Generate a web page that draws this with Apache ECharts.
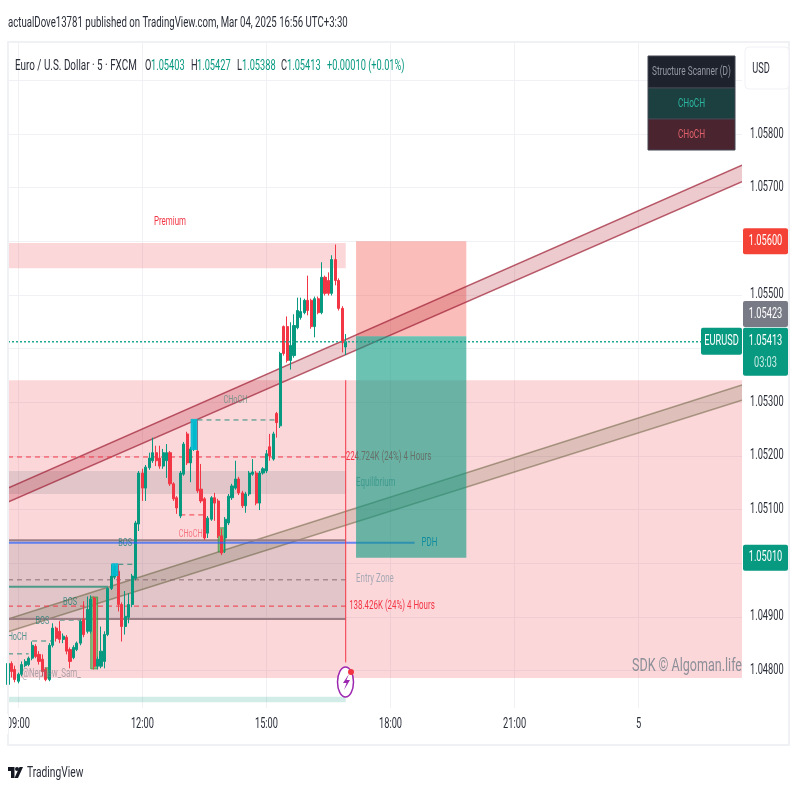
<!DOCTYPE html>
<html>
<head>
<meta charset="utf-8">
<title>EURUSD 5m</title>
<style>
html,body{margin:0;padding:0;background:#fff;}
#main{width:800px;height:800px;}
</style>
<script src="https://cdn.jsdelivr.net/npm/echarts@6/dist/echarts.min.js"></script>
</head>
<body>
<div id="main"></div>
<script>
var opens = [
	1.04774,1.04813,1.04802,1.04780,1.04793,1.04809,1.04811,1.04823,1.04845,1.04830,
	1.04821,1.04802,1.04783,1.04847,1.04879,1.04873,1.04858,1.04862,1.04839,1.04824,
	1.04839,1.04851,1.04895,1.04873,1.04873,1.04935,1.04808,1.04808,1.04817,1.04867,
	1.04953,1.04974,1.04985,1.04923,1.04882,1.04899,1.04923,1.04972,1.05073,1.05168,
	1.05140,1.05178,1.05191,1.05206,1.05196,1.05181,1.05191,1.05206,1.05148,1.05122,
	1.05088,1.05166,1.05241,1.05187,1.05213,1.05209,1.05138,1.05120,1.05056,1.05082,
	1.05122,1.05116,1.05051,1.05047,1.05075,1.05122,1.05140,1.05157,1.05131,1.05107,
	1.05129,1.05166,1.05168,1.05112,1.05168,1.05172,1.05217,1.05194,1.05279,1.05256,
	1.05441,1.05441,1.05378,1.05387,1.05439,1.05458,1.05467,1.05490,1.05490,1.05441,
	1.05493,1.05467,1.05533,1.05527,1.05503,1.05566,1.05527,1.05475,1.05403
];
var closes = [
	1.04813,1.04798,1.04783,1.04793,1.04811,1.04817,1.04823,1.04847,1.04826,1.04817,
	1.04798,1.04783,1.04847,1.04879,1.04860,1.04858,1.04864,1.04836,1.04817,1.04843,
	1.04851,1.04892,1.04867,1.04914,1.04933,1.04808,1.04821,1.04836,1.04867,1.04953,
	1.04976,1.04994,1.04923,1.04882,1.04901,1.04923,1.04976,1.05075,1.05168,1.05140,
	1.05179,1.05196,1.05206,1.05191,1.05181,1.05206,1.05206,1.05148,1.05120,1.05103,
	1.05168,1.05222,1.05187,1.05213,1.05265,1.05135,1.05116,1.05047,1.05084,1.05122,
	1.05112,1.05051,1.05019,1.05082,1.05125,1.05144,1.05157,1.05131,1.05107,1.05129,
	1.05168,1.05170,1.05112,1.05168,1.05176,1.05204,1.05200,1.05241,1.05262,1.05391,
	1.05391,1.05378,1.05406,1.05443,1.05471,1.05469,1.05490,1.05471,1.05441,1.05493,
	1.05467,1.05533,1.05503,1.05503,1.05566,1.05527,1.05475,1.05411,1.05413
];
var lows = [
	1.04770,1.04787,1.04778,1.04776,1.04789,1.04806,1.04808,1.04819,1.04823,1.04811,
	1.04789,1.04780,1.04780,1.04843,1.04854,1.04851,1.04851,1.04830,1.04804,1.04821,
	1.04836,1.04847,1.04862,1.04869,1.04869,1.04802,1.04802,1.04804,1.04804,1.04864,
	1.04950,1.04970,1.04910,1.04854,1.04867,1.04888,1.04918,1.04968,1.05060,1.05116,
	1.05116,1.05174,1.05187,1.05181,1.05176,1.05176,1.05159,1.05144,1.05116,1.05092,
	1.05084,1.05163,1.05183,1.05151,1.05209,1.05131,1.05112,1.05043,1.05047,1.05079,
	1.05079,1.05047,1.05015,1.05019,1.05071,1.05118,1.05137,1.05127,1.05103,1.05094,
	1.05125,1.05163,1.05108,1.05099,1.05165,1.05168,1.05191,1.05191,1.05234,1.05252,
	1.05387,1.05374,1.05361,1.05383,1.05436,1.05454,1.05464,1.05462,1.05437,1.05421,
	1.05464,1.05464,1.05499,1.05499,1.05499,1.05518,1.05471,1.05393,1.05388
];
var highs = [
	1.04817,1.04817,1.04809,1.04796,1.04817,1.04821,1.04826,1.04854,1.04849,1.04836,
	1.04830,1.04806,1.04851,1.04888,1.04882,1.04892,1.04869,1.04866,1.04843,1.04847,
	1.04854,1.04895,1.04929,1.04938,1.04940,1.04938,1.04826,1.04882,1.04873,1.04955,
	1.04998,1.04998,1.04998,1.04927,1.04948,1.04944,1.04980,1.05079,1.05172,1.05176,
	1.05183,1.05206,1.05234,1.05219,1.05219,1.05213,1.05222,1.05209,1.05151,1.05125,
	1.05172,1.05226,1.05245,1.05217,1.05267,1.05267,1.05185,1.05123,1.05088,1.05125,
	1.05131,1.05120,1.05064,1.05086,1.05129,1.05148,1.05191,1.05161,1.05135,1.05133,
	1.05172,1.05194,1.05172,1.05172,1.05179,1.05211,1.05241,1.05245,1.05282,1.05394,
	1.05443,1.05460,1.05449,1.05464,1.05495,1.05495,1.05493,1.05536,1.05493,1.05497,
	1.05497,1.05561,1.05536,1.05542,1.05574,1.05594,1.05531,1.05479,1.05427
];

var timeTicks = ['09:00','12:00','15:00','18:00','21:00','5'];
var priceTicks = [1.059,1.058,1.057,1.056,1.055,1.054,1.053,1.052,1.051,1.05,1.049,1.048];

// zones: [first bar, last bar, top price, bottom price]
var premiumZone = [[0,98,1.05597,1.05550]];
var discountZone = [[0,213,1.05341,1.04786]];
var grayZones = [[0,98,1.05172,1.05129],[0,98,1.05043,1.04896]];
var sessionBar = [[0,98,1.04751,1.04741]];
var stopBox = [[100.8,133,1.05600,1.05423]];
var targetBox = [[100.8,133,1.05423,1.05010]];
var greenBlocks = [[11,12,1.04805,1.04786],[24,26,1.04937,1.04803],[61,63,1.05066,1.05021]];
var cyanBlocks = [[30,32,1.05000,1.04976],[53,55,1.05269,1.05211]];

// channels: [first bar, top, bottom, last bar, top, bottom]
var upperChannel = [0,1.05140,1.05114,213,1.05742,1.05711];
var lowerChannel = [0,1.04896,1.04872,213,1.05332,1.05304];

// segments: [first bar, last bar, price]
var redDashes = [[0,98,1.05198],[0,98,1.04920],[50,57,1.05090]];
var greenDashes = [[55,78,1.05267],[32,37,1.04998],[15,21,1.04894],[7,13,1.04855],[0,6,1.04831]];
var entryDash = [[0,98,1.04969]];
var entryEdges = [[0,98,1.05043],[0,98,1.04896]];
var pdhLine = [[0,118,1.05038]];
var supportLine = [[0,29,1.04956]];
var lastPriceLine = [[0,202,1.05413]];
var nowLine = [98,1.05341,1.04815];

var noteTexts = ['Premium','CHoCH','CHoCH','BOS','BOS','BOS','CHoCH','224.724K (24%) 4 Hours','Equilibrium','Entry Zone','138.426K (24%) 4 Hours','PDH','@Nephew_Sam_','SDK \u00A9 Algoman.life'];
var noteBars = [46.7,65.6,52.8,33.7,17.7,9.9,2.3,98.4,100.7,100.7,98.7,120.4,3.5,212.7];
var notePrices = [1.05636,1.05304,1.05054,1.05038,1.04928,1.04892,1.04862,1.05198,1.05149,1.04970,1.04920,1.05038,1.04793,1.04808];

var upColor = '#089981';
var downColor = '#f23645';
var textColor = '#2a2e39';
var squeeze = 0.66;
var noteStyles = [
	{fill:downColor,size:12,align:'center'},
	{fill:'rgba(90,140,130,.75)',size:11,align:'center'},
	{fill:'rgba(242,54,69,.6)',size:11,align:'center'},
	{fill:'rgba(8,120,110,.7)',size:11,align:'center'},
	{fill:'rgba(8,120,110,.7)',size:11,align:'center'},
	{fill:'rgba(8,120,110,.7)',size:11,align:'center'},
	{fill:'rgba(8,120,110,.7)',size:11,align:'center'},
	{fill:downColor,size:12,align:'left'},
	{fill:'#8a9aa0',size:12,align:'left'},
	{fill:'#a6a9b4',size:12,align:'left'},
	{fill:downColor,size:12,align:'left'},
	{fill:'#1e78c8',size:12,align:'left'},
	{fill:'rgba(120,123,134,.6)',size:12,align:'left'},
	{fill:'#8c8f98',size:19,align:'right'}
];

// 5 minute slots from 08:45, the same slot width carries on past the last bar
var categories = new Array();
for(var i=0;i<214;i++){
	var m = 8*60+45+i*5;
	var h = Math.floor(m/60)%24;
	var name = (h<10?'0':'')+h+':'+(m%60<10?'0':'')+(m%60);
	categories.push(name=='00:00' ? '5' : name);
}
var isTick = function(i,v){
	return timeTicks.indexOf(v)>=0;
};

var candles = new Array();
for(var j=0;j<opens.length;j++){
	candles.push([opens[j],closes[j],lows[j],highs[j]]);
}

function boxes(name,list,color,z,border){
	return {
		name:name,type:'custom',z:z,silent:true,clip:true,
		data:list,
		renderItem:function(params,api){
			var b = list[params.dataIndex];
			var a = api.coord([b[0],b[2]]);
			var c = api.coord([b[1],b[3]]);
			return {
				type:'rect',
				shape:{x:a[0],y:a[1],width:c[0]-a[0],height:c[1]-a[1]},
				style:{fill:color,stroke:border||null,lineWidth:border?1:0}
			};
		}
	};
}

function channel(name,ch,fill,edge,z){
	return {
		name:name,type:'custom',z:z,silent:true,clip:true,
		data:[ch],
		renderItem:function(params,api){
			var p1 = api.coord([ch[0],ch[1]]);
			var p2 = api.coord([ch[3],ch[4]]);
			var p3 = api.coord([ch[3],ch[5]]);
			var p4 = api.coord([ch[0],ch[2]]);
			return {
				type:'group',
				children:[
					{type:'polygon',shape:{points:[p1,p2,p3,p4]},style:{fill:fill}},
					{type:'line',shape:{x1:p1[0],y1:p1[1],x2:p2[0],y2:p2[1]},style:{stroke:edge,lineWidth:1.5}},
					{type:'line',shape:{x1:p4[0],y1:p4[1],x2:p3[0],y2:p3[1]},style:{stroke:edge,lineWidth:1.5}}
				]
			};
		}
	};
}

function segments(name,list,color,width,dash,z){
	return {
		name:name,type:'custom',z:z,silent:true,clip:true,
		data:list,
		renderItem:function(params,api){
			var s = list[params.dataIndex];
			var a = api.coord([s[0],s[2]]);
			var b = api.coord([s[1],s[2]]);
			return {
				type:'line',
				shape:{x1:a[0],y1:a[1],x2:b[0],y2:b[1]},
				style:{stroke:color,lineWidth:width,lineDash:dash||null}
			};
		}
	};
}

var series = [
	// the image is squeezed sideways, so the axis labels are drawn scaled like the rest of the text
	{
		name:'price labels',type:'custom',z:0,silent:true,clip:false,
		data:priceTicks,
		renderItem:function(params,api){
			var p = api.coord([213,priceTicks[params.dataIndex]]);
			return {
				type:'text',x:p[0]+8,y:p[1],scaleX:squeeze,
				style:{text:priceTicks[params.dataIndex].toFixed(5),fill:textColor,font:'14px Roboto',align:'left',verticalAlign:'middle'}
			};
		}
	},
	{
		name:'time labels',type:'custom',z:0,silent:true,clip:false,
		data:timeTicks,
		renderItem:function(params,api){
			var t = timeTicks[params.dataIndex];
			var p = api.coord([categories.indexOf(t),1.047301]);
			return {
				type:'text',x:p[0],y:p[1]+16,scaleX:squeeze,
				style:{text:t,fill:textColor,font:'14px Roboto',align:'center',verticalAlign:'middle'}
			};
		}
	},
	boxes('premium',premiumZone,'rgba(242,54,69,.2)',1),
	boxes('discount',discountZone,'rgba(242,54,69,.2)',1),
	boxes('gray',grayZones,'rgba(120,123,134,.2)',1),
	boxes('session',sessionBar,'rgba(8,153,129,.18)',1),
	boxes('stop',stopBox,'rgba(244,67,54,.35)',2),
	channel('upper channel',upperChannel,'rgba(178,34,52,.24)','rgba(160,35,55,.72)',2),
	channel('lower channel',lowerChannel,'rgba(90,85,45,.18)','rgba(90,85,45,.5)',2),
	segments('red dashes',redDashes,downColor,1,[5,4],3),
	segments('green dashes',greenDashes,'#2e8b7a',1,[5,4],3),
	segments('entry dash',entryDash,'#8a6d73',1,[5,4],3),
	segments('entry edges',entryEdges,'#9c7f85',2,null,3),
	segments('support',supportLine,'#4e9a88',2,null,3),
	boxes('blocks',greenBlocks,'rgba(76,175,80,.65)',3,'rgba(56,142,60,.7)'),
	{
		name:'EURUSD',type:'candlestick',z:5,silent:true,
		barWidth:2.6,
		itemStyle:{color:upColor,color0:downColor,borderColor:upColor,borderColor0:downColor,borderWidth:1},
		data:candles
	},
	boxes('cyan',cyanBlocks,'rgba(0,188,212,.92)',6),
	segments('last price',lastPriceLine,'#22a892',1.5,[2,2],6),
	segments('pdh',pdhLine,'rgba(41,98,255,.7)',2,null,6),
	{
		name:'now',type:'custom',z:6,silent:true,clip:true,
		data:[nowLine],
		renderItem:function(params,api){
			var a = api.coord([nowLine[0],nowLine[1]]);
			var b = api.coord([nowLine[0],nowLine[2]]);
			return {type:'line',shape:{x1:a[0],y1:a[1],x2:b[0],y2:b[1]},style:{stroke:downColor,lineWidth:1}};
		}
	},
	{
		name:'notes',type:'custom',z:7,silent:true,clip:true,
		data:noteTexts,
		renderItem:function(params,api){
			var k = params.dataIndex;
			var p = api.coord([noteBars[k],notePrices[k]]);
			var st = noteStyles[k];
			return {
				type:'text',x:p[0],y:p[1],scaleX:squeeze,
				style:{text:noteTexts[k],fill:st.fill,font:st.size+'px Roboto',align:st.align,verticalAlign:'middle'}
			};
		}
	},
	boxes('target',targetBox,'rgba(8,153,129,.6)',8)
];

var myChart = echarts.init(document.getElementById('main'));
var option = {
	animation:false,
	backgroundColor:'#fff',
	grid:{left:8,right:58,top:42,bottom:92},
	xAxis:{
		type:'category',boundaryGap:false,data:categories,
		axisLine:{show:false},axisTick:{show:false},
		axisLabel:{show:false},
		splitLine:{show:true,interval:isTick,lineStyle:{color:'#f0f1f4',width:1}}
	},
	yAxis:{
		type:'value',position:'right',scale:true,min:1.047301,max:1.059715,
		axisLine:{show:false},
		axisTick:{show:false,customValues:priceTicks},
		axisLabel:{show:false,customValues:priceTicks},
		splitLine:{show:true,lineStyle:{color:'#f0f1f4',width:1}}
	},
	series:series
};
myChart.setOption(option);

function label(x,y,text,color,size,align){
	return {
		type:'text',x:x,y:y,scaleX:squeeze,z:110,silent:true,
		style:{text:text,fill:color,font:size+'px Roboto',align:align||'left',verticalAlign:'middle'}
	};
}
function block(x,y,w,h,fill,stroke,r){
	return {
		type:'rect',z:100,silent:true,
		shape:{x:x,y:y,width:w,height:h,r:r||0},
		style:{fill:fill,stroke:stroke||null,lineWidth:stroke?1:0}
	};
}
var priceY = function(p){
	return myChart.convertToPixel({yAxisIndex:0},p);
};

var dark = '#131722';
var y56 = priceY(1.05600), y50 = priceY(1.05010), yLast = priceY(1.05413);
var graphics = [
	// frame
	block(7,41,783,2,'#f0f1f4'),
	block(7,41,2,705,'#f0f1f4'),
	block(788,41,2,705,'#f0f1f4'),
	block(7,744,783,2,'#f0f1f4'),
	block(0,714,8,20,'#fff'),
	// title and legend row
	label(8,23,'actualDove13781 published on TradingView.com, Mar 04, 2025 16:56 UTC+3:30',textColor,14.6),
	label(15,66,'Euro / U.S. Dollar \u00B7 5 \u00B7 FXCM',textColor,15),
	label(145,66,'O',textColor,14),label(151,66,'1.05403',upColor,14),
	label(191,66,'H',textColor,14),label(197,66,'1.05427',upColor,14),
	label(237,66,'L',textColor,14),label(242,66,'1.05388',upColor,14),
	label(281,66,'C',textColor,14),label(287,66,'1.05413',upColor,14),
	label(327,66,'+0.00010 (+0.01%)',upColor,14),
	// scanner table
	block(648,56,87,32,'#1e222d','#434651'),
	block(648,88,87,31,'#1c3f3f','#434651'),
	block(648,119,87,31,'#4a2530','#434651'),
	label(691.5,72,'Structure Scanner (D)','#9598a1',12.5,'center'),
	label(691.5,104,'CHoCH','#2bb5a0',12.5,'center'),
	label(691.5,135,'CHoCH','#e0606a',12.5,'center'),
	// right scale tags
	block(745,47,44,42,'#fff','#f0f1f4',4),
	label(761,69,'USD',textColor,14,'center'),
	block(743,y56-13,45,26,'#f44336',null,2),
	label(765.5,y56,'1.05600','#fff',14,'center'),
	block(743,301,45,26,'#787b86',null,2),
	label(765.5,314,'1.05423','#fff',14,'center'),
	block(701,yLast-14,41,27,upColor,null,2),
	label(721.5,yLast,'EURUSD','#fff',14,'center'),
	block(743,yLast-14,45,48,upColor,null,2),
	label(765.5,yLast,'1.05413','#fff',14,'center'),
	label(765.5,yLast+22,'03:03','#c8ece4',14,'center'),
	block(743,y50-13,45,26,upColor,null,2),
	label(765.5,y50,'1.05010','#fff',14,'center'),
	// flash marker
	{type:'ellipse',z:105,silent:true,shape:{cx:345.5,cy:682,rx:8,ry:15},style:{fill:'#fff',stroke:'#9c27b0',lineWidth:1.5}},
	{type:'polygon',z:106,silent:true,shape:{points:[[349,674],[343,683],[346.5,683],[344,690],[350,680],[346.5,680]]},style:{fill:'#9c27b0'}},
	{type:'circle',z:106,silent:true,shape:{cx:351,cy:672,r:3},style:{fill:downColor}},
	// footer logo
	{type:'polygon',z:105,silent:true,shape:{points:[[8,767],[14.5,767],[14.5,778],[11,778],[11,771],[8,771]]},style:{fill:dark}},
	{type:'circle',z:105,silent:true,shape:{cx:17,cy:769,r:2},style:{fill:dark}},
	{type:'polygon',z:105,silent:true,shape:{points:[[19.5,767],[23,767],[18,778],[14.5,778]]},style:{fill:dark}},
	label(27,773,'TradingView',textColor,15.5)
];
myChart.setOption({graphic:graphics});
</script>
</body>
</html>
